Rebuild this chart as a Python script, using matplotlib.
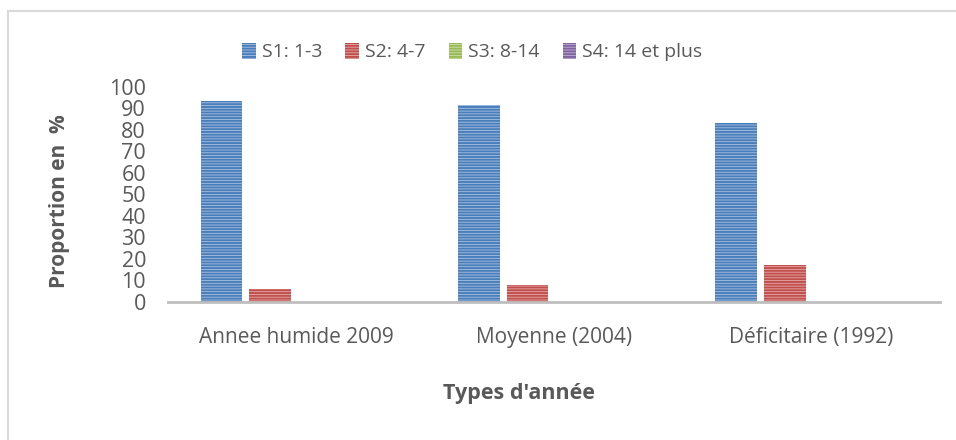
import numpy as np
import matplotlib
matplotlib.use("Agg")
from matplotlib import pyplot as plt
from matplotlib.lines import Line2D

plt.rcParams['font.family'] = ['Open Sans', 'DejaVu Sans']
plt.rcParams['hatch.linewidth'] = 1.4

categories = ['Annee humide 2009', 'Moyenne (2004)', 'Déficitaire (1992)']
series = ['S1: 1-3', 'S2: 4-7', 'S3: 8-14', 'S4: 14 et plus']
s1 = [93.5, 91.5, 83]
s2 = [6, 8, 17]
s3 = [0, 0, 0]
s4 = [0, 0, 0]

faces = ['#A9C1E2', '#E8A9A8', '#CADBA8', '#BDB0D2']
hatches = ['#4A7EBB', '#C0504D', '#9BBB59', '#8064A2']
txt = '#595959'

fig = plt.figure(figsize=(9.56, 4.40), dpi=100)
ax = fig.add_axes([0.176, 0.314, 0.807, 0.489])

x = np.arange(len(categories))
width = 0.163
step = 0.19
for i, vals in enumerate([s1, s2, s3, s4]):
    ax.bar(x + (i - 1.5) * step - 0.008, vals, width, color=faces[i], edgecolor=hatches[i],
           hatch='------', linewidth=0, label=series[i])

ax.set_xlim(-0.5, 2.5)
ax.set_ylim(0, 100)
ax.set_yticks(range(0, 101, 10))
ax.set_xticks(x)
ax.set_xticklabels(categories, fontsize=15)
ax.tick_params(axis='both', length=0, colors=txt)
ax.tick_params(axis='y', labelsize=15.5, pad=16)
ax.tick_params(axis='x', pad=18)
for s in ['top', 'right', 'left']:
    ax.spines[s].set_visible(False)
ax.spines['bottom'].set_color('#BFBFBF')
ax.spines['bottom'].set_linewidth(2)

ax.set_ylabel('Proportion en  %', fontsize=15, fontweight='bold', color=txt)
ax.yaxis.set_label_coords(-0.127, 0.47)
ax.set_xlabel("Types d'année", fontsize=15.5, fontweight='bold', color=txt)
ax.xaxis.set_label_coords(0.455, -0.377)

leg = fig.legend(loc='center', bbox_to_anchor=(0.494, 0.882), ncol=4, frameon=False,
                 fontsize=14, handlelength=0.7, handleheight=0.9, handletextpad=0.3,
                 columnspacing=1.2, labelcolor=txt)

# border of the chart area (only top and left visible)
fig.add_artist(Line2D([0.008, 1.0], [0.976, 0.976], color='#D9D9D9', lw=1.5))
fig.add_artist(Line2D([0.008, 0.008], [0.0, 0.976], color='#D9D9D9', lw=1.5))

fig.savefig('out.png', dpi=100)
